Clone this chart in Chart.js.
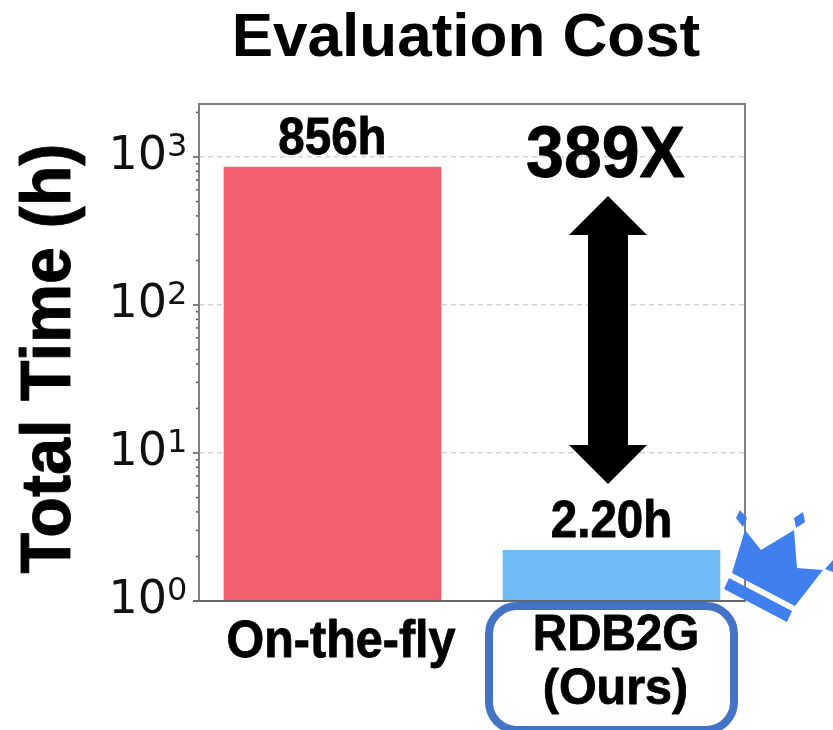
<!DOCTYPE html>
<html>
<head>
<meta charset="utf-8">
<title>Evaluation Cost</title>
<script src="https://cdn.jsdelivr.net/npm/chart.js@4"></script>
<style>
  html, body { margin: 0; padding: 0; background: #fff; }
  canvas { display: block; }
</style>
</head>
<body>
<canvas id="costChart" width="833" height="730"></canvas>
<script>
const categories = ['On-the-fly', ['RDB2G', '(Ours)']];
const totalHours = [856, 2.2];
const barLabels = ['856h', '2.20h'];
const barColors = ['#F25F6F', '#70BBF6'];
const yDecades = [1, 10, 100, 1000];
const speedup = '389X';
const yTitle = 'Total Time (h)';

const SANS = '"Liberation Sans", Arial, sans-serif';
const DEJAVU = '"DejaVu Sans", sans-serif';

function poly(ctx, pts) {
  ctx.beginPath();
  pts.forEach((p, i) => i ? ctx.lineTo(p[0], p[1]) : ctx.moveTo(p[0], p[1]));
  ctx.closePath();
  ctx.fill();
}

// bold centred text, a bit taller and heavier like the pasted labels of the original
function boldText(ctx, str, x, baseline, size, stretch) {
  ctx.save();
  ctx.translate(x, baseline);
  ctx.scale(1, stretch);
  ctx.font = 'bold ' + size + 'px ' + SANS;
  ctx.textAlign = 'center';
  ctx.textBaseline = 'alphabetic';
  ctx.strokeStyle = '#000';
  ctx.lineWidth = 0.8;
  ctx.lineJoin = 'round';
  ctx.fillText(str, 0, 0);
  ctx.strokeText(str, 0, 0);
  ctx.restore();
}

// frame, labels, arrow, crown and the box around "RDB2G (Ours)"
const decorations = {
  id: 'decorations',
  afterLayout(chart) {
    // the title sits a little left of the plot centre
    chart.titleBlock.left -= 6;
    chart.titleBlock.right -= 6;
  },
  afterDatasetsDraw(chart) {
    const ctx = chart.ctx;
    const a = chart.chartArea;
    const x = chart.scales.x;
    const y = chart.scales.y;
    ctx.save();

    // major / minor ticks
    ctx.strokeStyle = '#555';
    ctx.lineWidth = 1.5;
    y.ticks.forEach(t => {
      const px = y.getPixelForValue(t.value);
      const len = yDecades.includes(t.value) ? 6 : 3;
      ctx.beginPath();
      ctx.moveTo(a.left - len, px);
      ctx.lineTo(a.left, px);
      ctx.stroke();
    });

    ctx.strokeStyle = '#808080';
    ctx.lineWidth = 2;
    ctx.strokeRect(a.left, a.top, a.right - a.left, a.bottom - a.top);
    ctx.strokeStyle = '#666';
    ctx.beginPath();
    ctx.moveTo(a.left - 6, a.bottom);
    ctx.lineTo(a.right, a.bottom);
    ctx.stroke();

    ctx.fillStyle = '#000';

    // values above bars
    chart.getDatasetMeta(0).data.forEach((bar, i) => {
      boldText(ctx, barLabels[i], bar.x, bar.y - 13, 47.5, 1.08);
    });

    boldText(ctx, speedup, 605.5, 177, 68, 1.06);

    // category labels, placed by hand around the scale's positions
    boldText(ctx, categories[0], x.getPixelForValue(0) + 8.5, 657, 48.5, 1.06);
    boldText(ctx, categories[1][0], x.getPixelForValue(1) + 4.5, 650, 47.5, 1.04);
    boldText(ctx, categories[1][1], x.getPixelForValue(1) + 4, 704, 48.5, 1.04);

    // y title
    ctx.save();
    ctx.translate(70, 358.5);
    ctx.rotate(-Math.PI / 2);
    boldText(ctx, yTitle, 0, 0, 66.5, 1.06);
    ctx.restore();

    // exponents of the decade labels
    ctx.fillStyle = '#111';
    ctx.textAlign = 'left';
    ctx.textBaseline = 'alphabetic';
    ctx.font = '32px ' + DEJAVU;
    yDecades.forEach(v => {
      ctx.fillText(String(Math.log10(v)), 167, y.getPixelForValue(v) - 1);
    });

    // double arrow
    ctx.fillStyle = '#000';
    poly(ctx, [[608, 196], [647, 235], [628, 235], [628, 445], [647, 445], [608, 484],
               [569, 445], [588, 445], [588, 235], [569, 235]]);

    // rounded box
    ctx.strokeStyle = '#4472C4';
    ctx.lineWidth = 8;
    ctx.beginPath();
    ctx.roundRect(489, 606, 245, 124, 28);
    ctx.stroke();

    // crown
    ctx.fillStyle = '#3F7FEE';
    poly(ctx, [[745, 530], [761, 550], [794, 530], [797, 568], [823, 570], [795, 606], [732, 573], [738, 553]]);
    poly(ctx, [[729, 578], [792, 611], [787, 622], [724, 589]]);
    poly(ctx, [[740, 510], [747, 518], [743, 527], [736, 518]]);
    poly(ctx, [[803, 512], [805, 522], [796, 528], [794, 518]]);
    poly(ctx, [[833, 560], [833, 572], [825, 569]]);
    ctx.restore();
  }
};

new Chart(document.getElementById('costChart'), {
  type: 'bar',
  data: {
    datasets: [{
      data: totalHours.map((v, i) => ({ x: i, y: v })),
      backgroundColor: barColors,
      barThickness: 217
    }]
  },
  plugins: [decorations],
  options: {
    responsive: false,
    animation: false,
    layout: { padding: { top: 0, left: 0, right: 88, bottom: 0 } },
    plugins: {
      legend: { display: false },
      tooltip: { enabled: false },
      title: {
        display: true,
        text: 'Evaluation Cost',
        color: '#000',
        fullSize: false,
        font: { family: SANS, size: 62, weight: 'bold', lineHeight: 1.2 },
        padding: { top: 2, bottom: 27.6 }
      }
    },
    scales: {
      x: {
        type: 'linear',
        offset: false,
        min: -0.4785,
        max: 1.4785,
        afterBuildTicks: s => { s.ticks = categories.map((c, i) => ({ value: i })); },
        afterFit: s => { s.height = 129; },
        grid: { display: false, offset: false },
        border: { display: false },
        ticks: { display: false }
      },
      y: {
        type: 'logarithmic',
        min: 1,
        max: 2280,
        afterBuildTicks: s => {
          s.ticks = s.ticks.filter(t => Number(t.value.toPrecision(1)) === t.value);
        },
        afterFit: s => { s.width = 199; },
        grid: {
          drawTicks: false,
          color: c => (c.tick && yDecades.includes(c.tick.value)) ? '#D4D4D4' : 'rgba(0,0,0,0)',
          lineWidth: 1.5
        },
        border: { display: false, dash: [5, 4] },
        ticks: {
          autoSkip: false,
          padding: 32,
          color: '#111',
          font: { family: DEJAVU, size: 46 },
          callback: v => yDecades.includes(v) ? '10' : ''
        }
      }
    }
  }
});
</script>
</body>
</html>
